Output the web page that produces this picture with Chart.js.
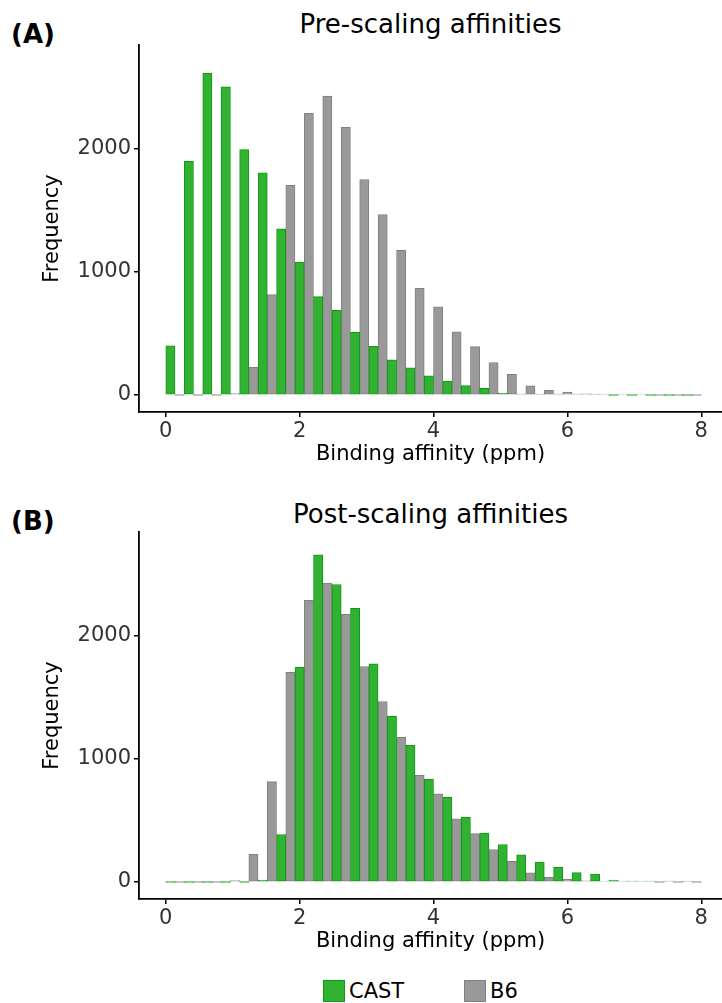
<!DOCTYPE html>
<html>
<head>
<meta charset="utf-8">
<script src="https://cdn.jsdelivr.net/npm/chart.js@4.4.1/dist/chart.umd.min.js"></script>
<style>
    body { margin: 0; background: #fff; font-family: 'DejaVu Sans', sans-serif; }
    .page { position: relative; width: 722px; height: 1003px; overflow: hidden; }
    canvas { position: absolute; left: 0; }
    .title { position: absolute; left: 139px; width: 583px; text-align: center; font-size: 26px; line-height: 30px; color: #000; }
    .tag { position: absolute; left: 11px; font-size: 26px; font-weight: bold; line-height: 30px; }
    .legend { position: absolute; top: 979px; left: 0; width: 722px; height: 24px; font-size: 21px; }
    .legend span { position: absolute; top: 0; line-height: 24px; }
    .legend i { position: absolute; top: 1px; width: 20px; height: 20px; }
</style>
</head>
<body>
<div class="page">
    <!-- Panel A -->
    <div class="tag" style="top: 19px;">(A)</div>
    <div class="title" style="top: 9px;">Pre-scaling affinities</div>
    <canvas id="chart-pre" width="722" height="470" style="top: 0;"></canvas>

    <!-- Panel B -->
    <div class="tag" style="top: 506px;">(B)</div>
    <div class="title" style="top: 499px;">Post-scaling affinities</div>
    <canvas id="chart-post" width="722" height="470" style="top: 487px;"></canvas>

    <div class="legend" id="legend"></div>
</div>

<script>
    // histogram bin centres (ppm), 29 bins over 0..8
    const binCentres = [0.138, 0.414, 0.690, 0.966, 1.241, 1.517, 1.793, 2.069, 2.345, 2.621,
        2.897, 3.172, 3.448, 3.724, 4.000, 4.276, 4.552, 4.828, 5.103, 5.379,
        5.655, 5.931, 6.207, 6.483, 6.759, 7.034, 7.310, 7.586, 7.862];

    const castPre = [400, 1900, 2615, 2505, 1995, 1805, 1350, 1080, 800, 688,
        510, 395, 287, 222, 157, 114, 76, 54, 16, 8,
        5, 2, 1, 1, 0, 0, 0, 0, 0];

    const castPost = [0, 0, 0, 0, 0, 16, 386, 1746, 2660, 2418,
        2224, 1773, 1347, 1112, 834, 688, 526, 397, 305, 221,
        162, 119, 76, 65, 16, 8, 5, 1, 1];

    const b6Counts = [0, 0, 0, 12, 225, 816, 1705, 2290, 2430, 2175,
        1752, 1467, 1176, 868, 716, 514, 394, 264, 169, 74,
        39, 24, 9, 4, 2, 1, 0, 0, 0];

    const xTicks = [0, 2, 4, 6, 8];
    const yTicks = [0, 1000, 2000];

    const series = [
        {label: 'CAST', fill: '#32b232', edge: '#0f9a0f'},
        {label: 'B6', fill: '#999999', edge: '#808080'}
    ];

    const tickFont = {family: 'DejaVu Sans', size: 21};

    function toPoints(counts) {
        return counts.map((c, i) => ({x: binCentres[i], y: c}));
    }

    function buildChart(canvasId, castCounts) {
        const ctx = document.getElementById(canvasId).getContext('2d');
        return new Chart(ctx, {
            type: 'bar',
            data: {
                datasets: [castCounts, b6Counts].map((counts, i) => ({
                    label: series[i].label,
                    data: toPoints(counts),
                    backgroundColor: series[i].fill,
                    borderColor: series[i].edge,
                    borderWidth: 1,
                    borderSkipped: false,
                    minBarLength: 1,
                    barPercentage: 1,
                    categoryPercentage: 1
                }))
            },
            options: {
                responsive: false,
                animation: false,
                layout: {padding: {top: 45, left: 0, right: 0, bottom: 0}},
                plugins: {
                    legend: {display: false},
                    tooltip: {enabled: false}
                },
                scales: {
                    x: {
                        type: 'linear',
                        offset: false,
                        min: -0.4,
                        max: 8.31,
                        afterBuildTicks: s => { s.ticks = xTicks.map(v => ({value: v})); },
                        afterFit: s => { s.height = 58; },
                        grid: {display: true, offset: false, drawOnChartArea: false, drawTicks: true, tickLength: 5, color: '#000', lineWidth: 1.5},
                        border: {display: true, color: '#000', width: 1.8},
                        ticks: {font: tickFont, color: '#333', padding: 2, maxRotation: 0, callback: v => String(v)},
                        title: {display: true, text: 'Binding affinity (ppm)', font: tickFont, color: '#000', padding: {top: 0, bottom: 2.4}}
                    },
                    y: {
                        min: -138,
                        max: 2845,
                        afterBuildTicks: s => { s.ticks = yTicks.map(v => ({value: v})); },
                        afterFit: s => { s.width = 139; },
                        grid: {display: true, drawOnChartArea: false, drawTicks: true, tickLength: 5, color: '#000', lineWidth: 1.5},
                        border: {display: true, color: '#000', width: 1.8},
                        ticks: {font: tickFont, color: '#333', padding: 3, callback: v => String(v)},
                        title: {display: true, text: 'Frequency', font: tickFont, color: '#000', padding: {top: 40.4, bottom: 0}}
                    }
                }
            }
        });
    }

    document.addEventListener('DOMContentLoaded', () => {
        buildChart('chart-pre', castPre);
        buildChart('chart-post', castPost);

        // legend under panel B
        const legend = document.getElementById('legend');
        const boxX = [323, 464];
        series.forEach((s, i) => {
            const box = document.createElement('i');
            box.style.left = boxX[i] + 'px';
            box.style.background = s.fill;
            box.style.border = '1px solid ' + s.edge;
            const txt = document.createElement('span');
            txt.style.left = (boxX[i] + 26) + 'px';
            txt.textContent = s.label;
            legend.appendChild(box);
            legend.appendChild(txt);
        });
    });
</script>
</body>
</html>
